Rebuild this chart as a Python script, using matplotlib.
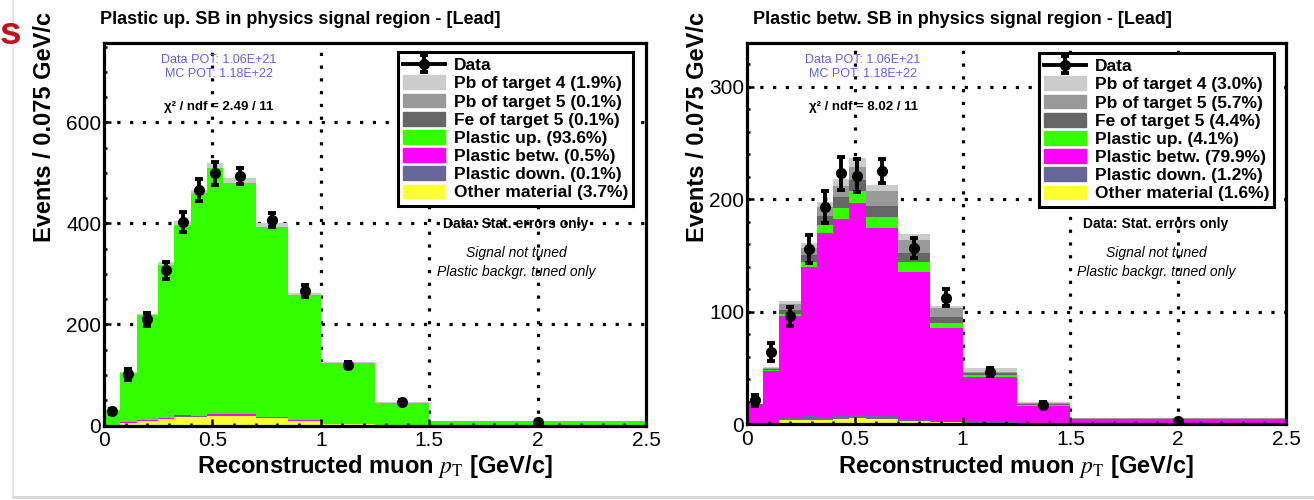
import numpy as np
import matplotlib.pyplot as plt
from matplotlib.patches import Patch
from matplotlib.lines import Line2D

plt.rcParams['font.family'] = ['Liberation Sans', 'DejaVu Sans']
plt.rcParams['mathtext.fontset'] = 'stix'

W, H = 1314, 500

# binning in reconstructed muon pT [GeV/c]
edges = np.array([0, 0.075, 0.15, 0.25, 0.325, 0.4, 0.475, 0.55, 0.7, 0.85, 1.0, 1.25, 1.5, 2.5])

components = ["Pb of target 4", "Pb of target 5", "Fe of target 5", "Plastic up.",
              "Plastic betw.", "Plastic down.", "Other material"]
colors = ['#cccccc', '#999999', '#666666', '#33ff00', '#ff00ff', '#666699', '#ffff33']

# plastic upstream sideband (events / 0.075 GeV/c)
up_pb4 = [0.5, 0.8, 0.8, 5.6, 8.4, 6.4, 9.4, 8.4, 6.6, 3.8, 1.8, 0.5, 0.5]
up_pb5 = [0.0, 0.1, 0.1, 0.2, 0.3, 0.3, 0.3, 0.3, 0.2, 0.1, 0.1, 0.0, 0.0]
up_fe5 = [0.0, 0.1, 0.1, 0.2, 0.3, 0.3, 0.3, 0.3, 0.2, 0.1, 0.1, 0.0, 0.0]
up_plup = [29.9, 98.0, 209.0, 303.3, 376.0, 440.7, 487.0, 458.0, 377.0, 248.0, 121.6, 44.4, 7.9]
up_plbetw = [0.1, 1.3, 0.7, 1.5, 1.9, 1.2, 2.0, 2.0, 1.3, 0.7, 0.3, 0.1, 0.1]
up_pldown = [0.0, 0.1, 0.1, 0.2, 0.3, 0.3, 0.3, 0.3, 0.2, 0.1, 0.1, 0.0, 0.0]
up_other = [0.5, 4.6, 9.2, 13.0, 17.8, 17.8, 19.7, 19.7, 14.5, 9.2, 2.0, 1.0, 1.0]
up_data = [28, 101, 210, 307, 403, 466, 499, 493, 407, 266, 120, 46, 6]
up_pct = [1.9, 0.1, 0.1, 93.6, 0.5, 0.1, 3.7]

# plastic between-targets sideband
bt_pb4 = [0.3, 1.5, 2.7, 4.5, 4.4, 5.9, 7.4, 5.4, 5.0, 2.4, 3.0, 0.8, 0.4]
bt_pb5 = [0.3, 1.0, 5.3, 5.9, 8.3, 9.8, 12.4, 13.0, 11.9, 7.4, 1.5, 0.8, 0.4]
bt_fe5 = [0.3, 0.8, 3.9, 6.5, 8.0, 10.2, 9.8, 10.4, 7.4, 5.9, 1.5, 0.8, 0.3]
bt_plup = [0.2, 0.3, 1.5, 3.8, 7.4, 9.7, 10.4, 9.8, 8.9, 3.9, 1.5, 0.9, 0.2]
bt_plbetw = [16.6, 46.3, 91.2, 133.2, 163.8, 174.8, 188.2, 167.3, 132.3, 83.3, 40.7, 15.3, 3.9]
bt_pldown = [0.1, 0.3, 1.0, 3.0, 2.7, 3.0, 3.0, 2.4, 0.3, 0.6, 0.4, 0.2, 0.1]
bt_other = [0.2, 0.8, 3.9, 3.9, 3.3, 4.7, 5.3, 4.5, 3.0, 1.8, 1.0, 0.5, 0.3]
bt_data = [21, 64, 96, 156, 193, 223, 221, 225, 157, 112.5, 46, 17, 3]
bt_pct = [3.0, 5.7, 4.4, 4.1, 79.9, 1.2, 1.6]

titles = ["Plastic up. SB in physics signal region - [Lead]",
          "Plastic betw. SB in physics signal region - [Lead]"]
chi2 = ["2.49 / 11", "8.02 / 11"]


def fx(x):
    return x / W


def fy(y):
    return 1 - y / H


def draw_panel(ax, layers, data, pct, ymax, ymajor, yminor, leg_anchor):
    centers = 0.5 * (edges[1:] + edges[:-1])
    widths = np.diff(edges)
    # stack from the bottom: last legend entry goes first
    bottom = np.zeros(len(centers))
    for vals, col in reversed(list(zip(layers, colors))):
        top = bottom + np.array(vals)
        ax.stairs(top, edges, baseline=bottom, fill=True, color=col, lw=0, zorder=1)
        bottom = top

    # statistical errors, rescaled to the 0.075 GeV/c normalisation
    data = np.array(data, dtype=float)
    err = np.sqrt(data * widths / 0.075) * 0.075 / widths
    eb = ax.errorbar(centers, data, yerr=err, fmt='o', color='k', ms=7,
                     elinewidth=2.8, capsize=3.2, capthick=2.8, zorder=5)

    ax.set_xlim(0, 2.5)
    ax.set_ylim(0, ymax)

    # dotted grid behind the histograms
    for x in [0.5, 1.0, 1.5, 2.0]:
        ax.axvline(x, color='k', lw=2.3, ls=(0, (1, 3.0)), zorder=0.5)
    for y in np.arange(ymajor, ymax, ymajor):
        ax.axhline(y, color='k', lw=2.3, ls=(0, (1, 3.0)), zorder=0.5)

    ax.set_xticks(np.arange(0, 2.51, 0.5))
    ax.set_xticklabels(['0', '0.5', '1', '1.5', '2', '2.5'])
    ax.set_xticks(np.arange(0, 2.51, 0.1), minor=True)
    ax.set_yticks(np.arange(0, ymax, ymajor))
    ax.set_yticks(np.arange(0, ymax, yminor), minor=True)
    ax.tick_params(which='both', direction='in', width=1.8, labelsize=15, top=False, right=False)
    ax.tick_params(which='major', length=5)
    ax.tick_params(which='minor', length=2.5)
    ax.tick_params(axis='x', pad=4)
    ax.tick_params(axis='y', pad=2)
    for s in ax.spines.values():
        s.set_linewidth(2.3)
        s.set_zorder(6)

    handles = [(Line2D([], [], color='k', lw=2.8), eb)]
    labels = ["Data"]
    for name, col, p in zip(components, colors, pct):
        handles.append(Patch(facecolor=col, edgecolor=col))
        labels.append(f"{name} ({p:.1f}%)")
    leg = ax.legend(handles, labels, loc='upper left', bbox_to_anchor=leg_anchor,
                    bbox_transform=ax.transAxes, borderaxespad=0,
                    prop={'weight': 'bold', 'size': 12.5}, frameon=True, fancybox=False,
                    framealpha=1, edgecolor='k', handlelength=2.4, handleheight=0.85,
                    handletextpad=0.5, labelspacing=0.13, borderpad=0.3)
    leg.get_frame().set_linewidth(2.2)
    leg.set_zorder(7)


fig = plt.figure(figsize=(W / 100, H / 100), dpi=100)

ax1 = fig.add_axes([fx(104), fy(425.5), fx(646 - 104), (425.5 - 43) / H])
draw_panel(ax1, [up_pb4, up_pb5, up_fe5, up_plup, up_plbetw, up_pldown, up_other],
           up_data, up_pct, 757, 200, 50, (0.5424, 0.9765))

ax2 = fig.add_axes([fx(747), fy(424), fx(1286 - 747), (424 - 43) / H])
draw_panel(ax2, [bt_pb4, bt_pb5, bt_fe5, bt_plup, bt_plbetw, bt_pldown, bt_other],
           bt_data, bt_pct, 339, 100, 20, (0.5417, 0.9738))

blue = '#6262e0'
for i, (cx, sx, ylab_x, xlab_x, tx) in enumerate([(219, 516, 45, 375, 300),
                                                  (863, 1156, 697, 1016, 962)]):
    fig.text(fx(tx), fy(20), titles[i], ha='center', va='center', fontsize=13, weight='bold')
    fig.text(fx(cx), fy(60), "Data POT: 1.06E+21", ha='center', va='center', fontsize=9, color=blue)
    fig.text(fx(cx), fy(74), "MC POT: 1.18E+22", ha='center', va='center', fontsize=9, color=blue)
    fig.text(fx(cx), fy(107), "\u03c7\u00b2 / ndf = " + chi2[i], ha='center', va='center',
             fontsize=9.5, weight='bold')
    fig.text(fx(sx), fy(224), "Data: Stat. errors only", ha='center', va='center',
             fontsize=10, weight='bold')
    fig.text(fx(sx), fy(253), "Signal not tuned", ha='center', va='center',
             fontsize=10, style='italic')
    fig.text(fx(sx), fy(272), "Plastic backgr. tuned only", ha='center', va='center',
             fontsize=10, style='italic')
    fig.text(fx(ylab_x), fy(12), "Events / 0.075 GeV/c", rotation=90, ha='center', va='top',
             fontsize=17, weight='bold')
    fig.text(fx(xlab_x), fy(466), r"Reconstructed muon $p_{\mathrm{T}}$ [GeV/c]",
             ha='center', va='center', fontsize=17, weight='bold')

# leftover from the slide this figure sits on
fig.text(fx(0), fy(34), "s", ha='left', va='center', fontsize=28, weight='bold', color='#c0121b')
fig.add_artist(Line2D([fx(13), fx(13)], [fy(497), 1], color='#e4e4e4', lw=1.5))
fig.add_artist(Line2D([fx(13), 1], [fy(497), fy(497)], color='#d8d8d8', lw=2))

fig.savefig("out.png", dpi=100)
